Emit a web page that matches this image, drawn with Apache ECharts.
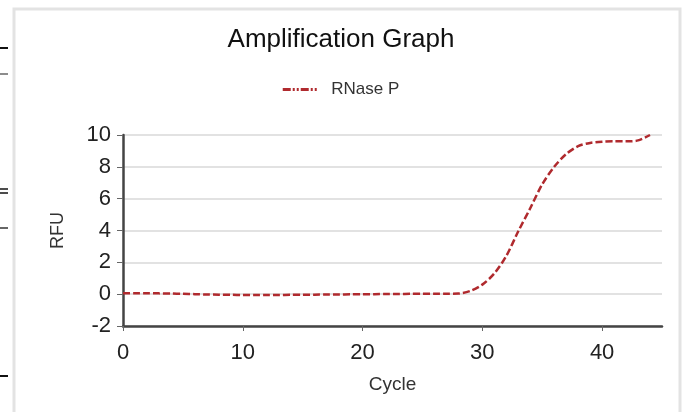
<!DOCTYPE html>
<html>
<head>
    <meta charset="utf-8">
    <title>Amplification Graph</title>
    <script src="https://cdn.jsdelivr.net/npm/echarts@6/dist/echarts.min.js"></script>
    <style>
        html, body { margin: 0; padding: 0; background: #fff; }
    </style>
</head>
<body>
<div id="main" style="width: 682px;height:412px;"></div>
<script type="text/javascript">
// cycle numbers and RFU readings
var cycles = [0, 1, 2, 3, 4, 5, 6, 7, 8, 9, 10, 11, 12, 13, 14, 15, 16, 17, 18, 19, 20, 21,
    22, 23, 24, 25, 26, 27, 28, 29, 30, 31, 32, 33, 34, 35, 36, 37, 38, 39, 40, 41, 42, 43, 44];
var rnaseP = [0.05, 0.06, 0.06, 0.05, 0.04, 0.02, 0.0, -0.02, -0.03, -0.04, -0.05, -0.05,
    -0.05, -0.05, -0.04, -0.04, -0.03, -0.02, -0.02, -0.01, 0.0, 0.0, 0.01, 0.01, 0.02,
    0.02, 0.02, 0.03, 0.04, 0.2, 0.6, 1.3, 2.4, 3.95, 5.4, 6.9, 8.0, 8.8, 9.3, 9.5, 9.58,
    9.6, 9.6, 9.66, 10.0];
var seriesName = 'RNase P';

var font = 'Liberation Sans';
var lineColor = '#b02a2e';
var myChart = echarts.init(document.getElementById('main'));

var points = cycles.map(function (c, i) { return [c, rnaseP[i]]; });

// dash-dot-dot legend swatch
var legendIcon = 'path://M0,0H8V3H0Z M10,0H12V3H10Z M14,0H16V3H14Z M18,0H26V3H18Z M28,0H30V3H28Z M32,0H34V3H32Z';

myChart.setOption({
    backgroundColor: '#fff',
    animation: false,
    title: {
        text: 'Amplification Graph',
        left: 'center',
        top: 22,
        textStyle: { fontFamily: font, fontSize: 26, fontWeight: 'normal', color: '#111' }
    },
    legend: {
        top: 76,
        left: 'center',
        icon: legendIcon,
        itemWidth: 35,
        itemHeight: 3,
        textStyle: { fontFamily: font, fontSize: 17, color: '#333', padding: [0, 0, 0, 9] },
        data: [seriesName]
    },
    grid: { left: 123, right: 20, top: 135, bottom: 86 },
    xAxis: {
        type: 'value',
        min: 0, max: 45, interval: 10,
        name: 'Cycle',
        nameLocation: 'middle',
        nameGap: 49,
        nameTextStyle: { fontFamily: font, fontSize: 19, color: '#333' },
        axisLine: { onZero: false, lineStyle: { color: '#444', width: 2.5 } },
        axisTick: { show: true, length: 5, lineStyle: { color: '#666' } },
        axisLabel: { fontFamily: font, fontSize: 22, color: '#222', margin: 16, showMaxLabel: false },
        splitLine: { show: false }
    },
    yAxis: {
        type: 'value',
        min: -2, max: 10, interval: 2,
        name: 'RFU',
        nameLocation: 'middle',
        nameGap: 56,
        nameTextStyle: { fontFamily: font, fontSize: 18, color: '#333' },
        axisLine: { show: true, lineStyle: { color: '#444', width: 2.5 } },
        axisTick: { show: true, length: 6, lineStyle: { color: '#666' } },
        axisLabel: { fontFamily: font, fontSize: 22, color: '#222', margin: 12 },
        splitLine: { lineStyle: { color: '#e2e2e2', width: 2 } }
    },
    series: [{
        name: seriesName,
        type: 'line',
        data: points,
        smooth: 0.3,
        symbol: 'none',
        itemStyle: { color: lineColor },
        lineStyle: { color: lineColor, width: 2.5, type: [7, 3] }
    }],
    graphic: [
        // card frame
        { type: 'rect', z: -1, shape: { x: 14, y: 9, width: 666, height: 420 },
          style: { fill: 'none', stroke: '#e3e3e3', lineWidth: 3 } },
        // edge marks from the page behind
        { type: 'line', shape: { x1: 0, y1: 48, x2: 8, y2: 48 }, style: { stroke: '#111', lineWidth: 2 } },
        { type: 'line', shape: { x1: 0, y1: 74, x2: 8, y2: 74 }, style: { stroke: '#666', lineWidth: 1.5 } },
        { type: 'line', shape: { x1: 0, y1: 189, x2: 8, y2: 189 }, style: { stroke: '#111', lineWidth: 1.5 } },
        { type: 'line', shape: { x1: 0, y1: 193, x2: 8, y2: 193 }, style: { stroke: '#111', lineWidth: 1.5 } },
        { type: 'line', shape: { x1: 0, y1: 228, x2: 8, y2: 228 }, style: { stroke: '#333', lineWidth: 1.5 } },
        { type: 'line', shape: { x1: 0, y1: 376, x2: 8, y2: 376 }, style: { stroke: '#111', lineWidth: 2 } }
    ]
});
</script>
</body>
</html>
